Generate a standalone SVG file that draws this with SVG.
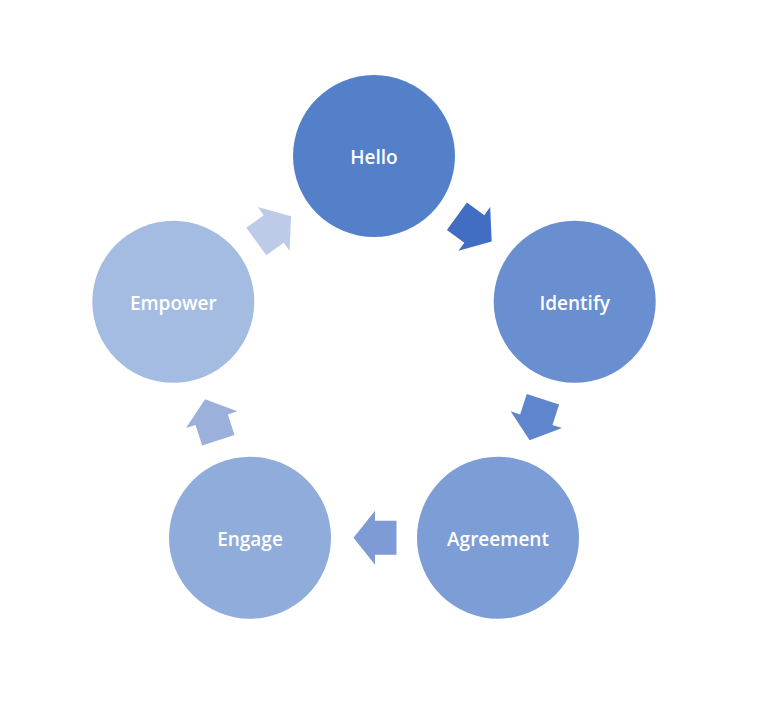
<svg xmlns="http://www.w3.org/2000/svg" width="777" height="716" viewBox="0 0 777 716">
<style>
.lbl{font-family:"Open Sans","Noto Sans","Liberation Sans",sans-serif;font-size:19px;font-weight:600;fill:#ffffff;text-anchor:middle}
</style>
<defs>
<path id="arr" d="M21.5,0 L0,-27 L0,-17 L-21.5,-17 L-21.5,17 L0,17 L0,27 Z"/>
</defs>
<rect width="777" height="716" fill="#ffffff"/>
<g id="connectors">
<use href="#arr" fill="#416DC2" transform="translate(474.3,228.9) rotate(36)"/>
<use href="#arr" fill="#5F85CC" transform="translate(536.3,419.7) rotate(108)"/>
<use href="#arr" fill="#7E9BD5" transform="translate(375,537.7) rotate(180)"/>
<use href="#arr" fill="#9CB0DC" transform="translate(211.7,419.7) rotate(252)"/>
<use href="#arr" fill="#BDCBE8" transform="translate(273.7,228.9) rotate(324)"/>
</g>
<g id="hello">
<circle cx="374" cy="156" r="81" fill="#5480CA"/>
<text class="lbl" x="374" y="164">Hello</text>
</g>
<g id="identify">
<circle cx="574.7" cy="301.8" r="81" fill="#698FD1"/>
<text class="lbl" x="574.7" y="310">Identify</text>
</g>
<g id="agreement">
<circle cx="498" cy="537.7" r="81" fill="#7C9DD6"/>
<text class="lbl" x="498" y="546">Agreement</text>
</g>
<g id="engage">
<circle cx="250" cy="537.7" r="81" fill="#8FACDB"/>
<text class="lbl" x="250" y="546">Engage</text>
</g>
<g id="empower">
<circle cx="173.3" cy="301.8" r="81" fill="#A4BCE2"/>
<text class="lbl" x="173.3" y="310">Empower</text>
</g>
</svg>
